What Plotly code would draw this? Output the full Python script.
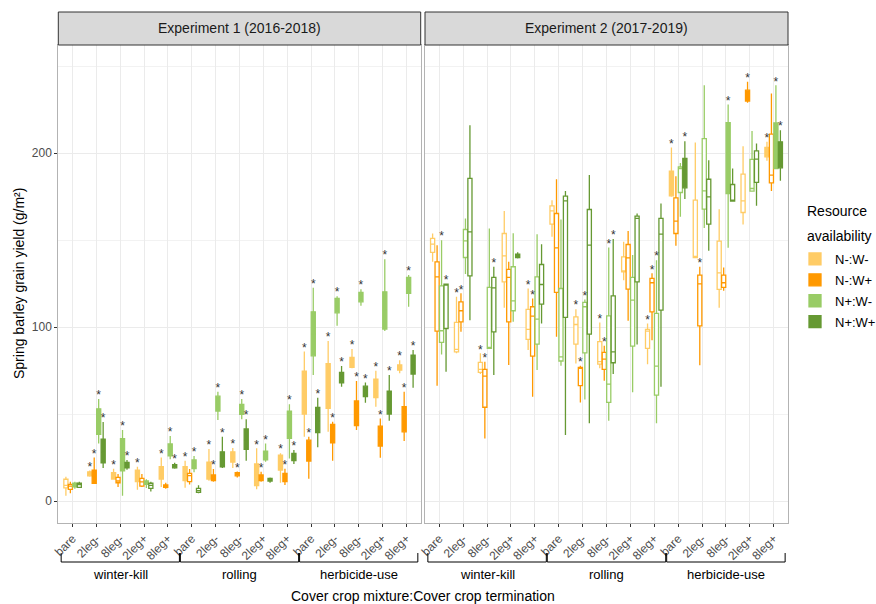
import plotly.graph_objects as go

# ---------------- data ----------------
mixtures = ["bare", "2leg-", "8leg-", "2leg+", "8leg+"]
terminations = ["winter-kill", "rolling", "herbicide-use"]
resources = ["N-:W-", "N-:W+", "N+:W-", "N+:W+"]
experiments = ["Experiment 1 (2016-2018)", "Experiment 2 (2017-2019)"]
colors = ["#FFCC66", "#FF9900", "#99CC66", "#669933"]

# (lower whisker, q1, median, q3, upper whisker) for 15 categories:
# winter-kill x5 mixtures, rolling x5, herbicide-use x5
e1_NmWm = [(3, 7.5, 9, 12.5, 14), (14, 14.5, 15.5, 16.8, 17.5), (12.6, 12.6, 14, 16.3, 18.5), (6.5, 11.1, 14, 17.8, 19.7), (8, 12.6, 15, 19.7, 25),
           (7.6, 11.7, 15, 19.7, 23.2), (11.7, 12.6, 17, 22.4, 29.9), (19, 22.4, 25, 28.3, 30.5), (6.7, 8.8, 15, 21.3, 30.3), (10.5, 17.8, 22, 26.4, 27.5),
           (37, 50, 62, 74.7, 86), (39.8, 53.3, 66, 79, 92), (76.4, 76.8, 80, 82.6, 87.4), (54.2, 59.4, 65, 70, 74.9), (73.4, 75.3, 76.7, 78.2, 81)]
e1_NmWp = [(4.4, 6.7, 8.5, 9.6, 11), (10.2, 10.2, 14, 17.8, 25), (8, 10.5, 11.5, 13.6, 15.5), (8, 8.6, 11, 13, 15.5), (7, 7.9, 8.5, 9.2, 10.5),
           (9.5, 11.1, 14.6, 15.9, 18.4), (11, 11.7, 13, 15, 18.4), (13.5, 14.5, 15.3, 16.3, 17), (11, 11.7, 13, 15, 16.8), (9.2, 11.1, 13.5, 15.9, 18.6),
           (12.8, 23, 29, 35, 37), (23.2, 33.5, 39, 44, 45.5), (40.8, 43.3, 50, 57.5, 69), (24.9, 31.6, 37, 43, 47.5), (34.5, 39.8, 47, 54.2, 62.8)]
e1_NpWm = [(7, 8.2, 9, 10.2, 11), (33, 38.3, 45, 53, 58.6), (3, 17.4, 27, 35.8, 40.8), (7.5, 9.6, 10.5, 11.5, 12.5), (24, 25.9, 29, 32.8, 37.4),
           (16.5, 18.6, 21, 23.6, 25.9), (46.6, 51.7, 56, 60.3, 62.8), (47, 49.8, 53, 55.6, 58.6), (22.6, 23.6, 26, 28.7, 33), (24.5, 36, 44, 51.7, 55.7),
           (72.4, 83.5, 96, 108.8, 122.6), (100.7, 108.2, 112, 116.5, 117.8), (112.2, 114.5, 117, 120, 121.8), (97.7, 98.9, 110, 120.3, 139), (111.7, 119.4, 124, 128.6, 129.9)]
e1_NpWp = [(7.5, 7.8, 9.5, 10.2, 11), (19, 22, 28, 35.6, 45.4), (18, 19, 20.5, 22.2, 23.6), (5.5, 7.3, 9, 10.2, 11), (18.5, 19.1, 20, 20.9, 22),
           (4.5, 5, 6, 7.3, 9), (19, 19.7, 24, 28.3, 37), (23.2, 29.7, 35, 41.4, 47), (10.5, 11.5, 12, 13, 13.5), (21.3, 23.2, 25, 27.4, 29.3),
           (30.9, 39.3, 46, 53.8, 59.4), (65.7, 68, 71, 74, 77.6), (56.5, 60, 63, 66, 68.2), (46.1, 50, 57, 63.2, 72.4), (65.1, 73, 78, 83.9, 86.8)]

e1_fill = [[0, 1, 1, 1, 1, 1, 1, 1, 1, 1, 1, 1, 1, 1, 1],
           [0, 1, 0, 0, 1, 0, 1, 1, 1, 1, 1, 1, 1, 1, 1],
           [1, 1, 1, 1, 1, 1, 1, 1, 1, 1, 1, 1, 1, 1, 1],
           [0, 1, 1, 0, 1, 0, 1, 1, 1, 1, 1, 1, 1, 1, 1]]
e1_star = [[0, 1, 1, 1, 1, 1, 1, 1, 1, 1, 1, 1, 1, 1, 1],
           [0, 1, 0, 0, 0, 0, 1, 1, 1, 1, 1, 1, 1, 1, 1],
           [0, 1, 1, 0, 1, 1, 1, 1, 1, 1, 1, 1, 1, 1, 1],
           [0, 1, 1, 0, 1, 0, 1, 1, 0, 1, 1, 1, 1, 1, 1]]

e2_NmWm = [(137.5, 143, 147.7, 151, 153.8), (84.9, 85.8, 87.2, 102.7, 117.4), (73, 74, 75.7, 79.7, 84.9), (111.1, 126, 141, 153.8, 166.8), (86.8, 92.9, 98.7, 110.2, 122.2),
           (151.9, 159.2, 166.8, 169.7, 173), (79.1, 90.2, 101.5, 105.9, 110.3), (76.3, 78.7, 80.1, 91.6, 102.7), (127, 131.8, 131.8, 140.4, 149), (78.7, 87.8, 97.7, 98.7, 102.1),
           (174.9, 175.5, 182, 189.7, 203.3), (140, 140, 140.4, 173, 206.1), (111.1, 121.7, 131.2, 149.4, 167.8), (159, 165.9, 172.6, 187.9, 204), (195.6, 197.9, 200.5, 203.3, 206.5)]
e2_NmWp = [(66.3, 97.7, 128.9, 137.5, 147), (97.3, 103, 109.4, 114.5, 119.4), (36, 53.9, 71.8, 75.7, 80), (78.2, 103, 128.6, 133.2, 137.5), (59.9, 83.3, 106.3, 111.7, 116.5),
           (94.4, 120, 145.6, 165.3, 185), (56.7, 66.3, 76.8, 76.8, 77.8), (69.1, 75.7, 81.6, 85.5, 89.3), (103.6, 121.8, 139.8, 147.5, 155.2), (92.5, 108.8, 125.5, 128, 130.9),
           (146.7, 153.8, 160.9, 174.3, 186.8), (78, 100.7, 124.9, 129.9, 134.7), (120.9, 122.8, 125.5, 129.9, 134.3), (229, 230, 233, 236.2, 241), (178.3, 182.9, 187.4, 210.9, 234.3)]
e2_NpWm = [(84.3, 91.2, 97.9, 123.7, 150), (130.5, 140, 149.6, 156.1, 162.5), (87.8, 87.8, 87.8, 122.8, 156.7), (103, 109.4, 115.1, 134.7, 153.9), (75.3, 90.2, 104.6, 128.9, 153.4),
           (77.8, 80.5, 82.9, 122.2, 161.9), (58.4, 85.2, 111.7, 114.2, 115.9), (46.1, 56.7, 67.2, 106.5, 145.8), (62.5, 89.1, 115.5, 128.6, 141.4), (44.7, 60.9, 77.6, 107.9, 138.5),
           (163.4, 177.4, 191.2, 192.1, 194.4), (157, 167.8, 178.3, 208.4, 239), (145.6, 176.8, 200, 217.6, 228), (178.2, 178.2, 179.7, 196.4, 212.8), (191.2, 191.2, 205, 217.4, 239)]
e2_NpWp = [(74.3, 99.2, 124.7, 124.7, 124.7), (104, 129.5, 154.8, 185.5, 216.1), (72.4, 97.3, 122.6, 128.6, 134.7), (139.5, 140, 141, 142, 143), (102.1, 113.2, 124.5, 136, 147.7),
           (37.9, 105.6, 172.6, 175.3, 178.2), (44.7, 96, 147.1, 167.6, 187.4), (73, 79.5, 85.8, 118, 150.6), (90, 126, 162.5, 163.8, 165.3), (65.7, 109.8, 153.4, 162.5, 171.1),
           (173.6, 180.1, 188, 197, 206.9), (143.9, 159.2, 174.9, 185, 196), (172.4, 172.4, 172.4, 182, 191.2), (169.7, 183.2, 196.6, 201.3, 205.6), (184.1, 191.6, 199, 206.5, 213.2)]

e2_fill = [[0, 0, 0, 0, 0, 0, 0, 0, 0, 0, 1, 0, 0, 0, 1],
           [0, 0, 0, 0, 0, 0, 0, 0, 0, 0, 0, 0, 0, 1, 0],
           [0, 0, 0, 0, 0, 0, 0, 0, 0, 0, 0, 0, 1, 0, 1],
           [0, 0, 0, 1, 0, 0, 0, 0, 0, 0, 1, 0, 0, 0, 1]]
e2_star = [[0, 1, 1, 0, 1, 0, 1, 1, 0, 1, 1, 0, 0, 0, 1],
           [0, 1, 1, 0, 1, 0, 1, 1, 0, 1, 0, 1, 0, 1, 0],
           [1, 0, 0, 0, 0, 0, 1, 1, 0, 1, 0, 0, 1, 0, 1],
           [1, 0, 1, 0, 0, 0, 0, 1, 0, 0, 1, 0, 0, 0, 1]]

# ---------------- figure ----------------
W, H = 876, 604
FONT = "Liberation Sans, Arial, sans-serif"
px = lambda v: v / W
py = lambda v: 1 - v / H

panel_x = [(58.3, 420.7), (425.0, 788.0)]
panel_top, panel_bot = 45.0, 523.0
strip_top = 12.0
star_gap = 1.6  # data units between whisker end and asterisk centre

n_cat = len(terminations) * len(mixtures)
cat_idx = list(range(n_cat))
tick_text = [m for t in terminations for m in mixtures]
dodge = 0.75 / len(resources)
offsets = [(r - (len(resources) - 1) / 2) * dodge for r in range(len(resources))]
box_w = dodge * 0.92

fig = go.Figure()
exp_data = [([e1_NmWm, e1_NmWp, e1_NpWm, e1_NpWp], e1_fill, e1_star),
            ([e2_NmWm, e2_NmWp, e2_NpWm, e2_NpWp], e2_fill, e2_star)]

for e, (series, fills, stars) in enumerate(exp_data):
    xa = "x" if e == 0 else "x2"
    ya = "y" if e == 0 else "y2"
    for r, stats in enumerate(series):
        for filled in (1, 0):
            idx = [i for i in cat_idx if fills[r][i] == filled]
            if not idx:
                continue
            fig.add_trace(go.Box(
                x=[i + offsets[r] for i in idx],
                lowerfence=[stats[i][0] for i in idx],
                q1=[stats[i][1] for i in idx],
                median=[stats[i][2] for i in idx],
                q3=[stats[i][3] for i in idx],
                upperfence=[stats[i][4] for i in idx],
                width=box_w,
                whiskerwidth=0,
                fillcolor=colors[r] if filled else "white",
                line=dict(color=colors[r], width=1.3),
                boxpoints=False,
                name=resources[r],
                legendgroup=resources[r],
                showlegend=(e == 0 and filled == 1),
                xaxis=xa, yaxis=ya,
                hoverinfo="skip",
            ))
        sidx = [i for i in cat_idx if stars[r][i]]
        fig.add_trace(go.Scatter(
            x=[i + offsets[r] for i in sidx],
            y=[stats[i][4] + star_gap for i in sidx],
            mode="text", text=["*"] * len(sidx),
            textposition="middle center",
            textfont=dict(family=FONT, size=12, color="#333333"),
            showlegend=False, hoverinfo="skip",
            xaxis=xa, yaxis=ya,
        ))

axis_common = dict(range=[-0.6, n_cat - 0.4], tickvals=cat_idx, ticktext=tick_text,
                   tickangle=-45, ticks="outside", ticklen=3, tickcolor="#333333",
                   tickfont=dict(family=FONT, size=12, color="#4D4D4D"),
                   showgrid=True, gridcolor="#EBEBEB", gridwidth=1,
                   showline=True, mirror=True, linecolor="#B3B3B3", linewidth=1,
                   zeroline=False, automargin=False)
yr = [-12.65, 262.2]
yaxis_common = dict(range=yr, tick0=0, dtick=100, showgrid=True, gridcolor="#EBEBEB",
                    minor=dict(dtick=50, showgrid=True, gridcolor="#F2F2F2", ticks=""),
                    showline=True, mirror=True, linecolor="#B3B3B3", linewidth=1,
                    zeroline=False, automargin=False, domain=[py(panel_bot), py(panel_top)])

fig.update_layout(
    width=W, height=H,
    margin=dict(l=0, r=0, t=0, b=0, autoexpand=False),
    paper_bgcolor="white", plot_bgcolor="white",
    boxmode="overlay",
    font=dict(family=FONT, color="black"),
    xaxis=dict(domain=[px(panel_x[0][0]), px(panel_x[0][1])], anchor="y", **axis_common),
    xaxis2=dict(domain=[px(panel_x[1][0]), px(panel_x[1][1])], anchor="y2", **axis_common),
    yaxis=dict(anchor="x", ticks="outside", ticklen=3, tickcolor="#333333",
               tickfont=dict(family=FONT, size=12, color="#4D4D4D"), **yaxis_common),
    yaxis2=dict(anchor="x2", showticklabels=False, matches="y", **yaxis_common),
    legend=dict(
        x=px(795), y=py(244), xanchor="left", yanchor="top",
        font=dict(family=FONT, size=13, color="black"),
        itemwidth=30, tracegroupgap=1, bgcolor="rgba(0,0,0,0)",
    ),
    showlegend=True,
)

shapes = []
annotations = []
for e in range(2):
    x0, x1 = panel_x[e]
    shapes.append(dict(type="rect", xref="paper", yref="paper",
                       x0=px(x0), x1=px(x1), y0=py(panel_top), y1=py(strip_top),
                       fillcolor="#D9D9D9", line=dict(color="#333333", width=1), layer="above"))
    annotations.append(dict(text=experiments[e], xref="paper", yref="paper",
                            x=px((x0 + x1) / 2), y=py((panel_top + strip_top) / 2),
                            showarrow=False, xanchor="center", yanchor="middle",
                            font=dict(family=FONT, size=14, color="#1A1A1A")))
    xr = "x" if e == 0 else "x2"
    for g, term in enumerate(terminations):
        a = g * len(mixtures) - 0.48
        b = (g + 1) * len(mixtures) - 0.52
        shapes.append(dict(type="path", xref=xr, yref="paper",
                           path=f"M {a},{py(553)} L {a},{py(562)} L {b},{py(562)} L {b},{py(553)}",
                           line=dict(color="black", width=1)))
        annotations.append(dict(text=term, xref=xr, yref="paper",
                                x=(a + b) / 2, y=py(574), showarrow=False,
                                xanchor="center", yanchor="middle",
                                font=dict(family=FONT, size=13, color="black")))

# legend title (two lines, ggplot-like spacing)
for k, word in enumerate(["Resource", "availability"]):
    annotations.append(dict(text=word, xref="paper", yref="paper",
                            x=px(805), y=py(211 + 25 * k), showarrow=False,
                            xanchor="left", yanchor="middle",
                            font=dict(family=FONT, size=14, color="black")))

annotations.append(dict(text="Cover crop mixture:Cover crop termination", xref="paper", yref="paper",
                        x=px((panel_x[0][0] + panel_x[1][1]) / 2), y=py(596), showarrow=False,
                        xanchor="center", yanchor="middle",
                        font=dict(family=FONT, size=14, color="black")))
annotations.append(dict(text="Spring barley grain yield (g/m²)", xref="paper", yref="paper",
                        x=px(19), y=py((panel_top + panel_bot) / 2), showarrow=False,
                        textangle=-90, xanchor="center", yanchor="middle",
                        font=dict(family=FONT, size=14, color="black")))
fig.update_layout(shapes=shapes, annotations=annotations)

fig.write_html("out.html",
               config={"displayModeBar": False},
               post_script="document.body.style.margin='0';document.body.style.padding='0';"
                           "document.body.style.overflow='hidden';")
